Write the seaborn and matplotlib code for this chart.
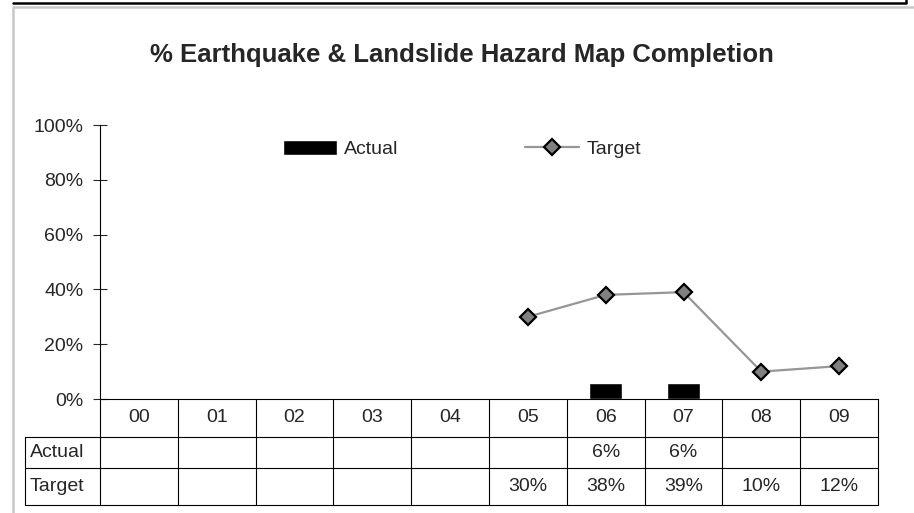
import numpy as np
import pandas as pd
import matplotlib
matplotlib.use("Agg")
import matplotlib.pyplot as plt
import seaborn as sns
from matplotlib.lines import Line2D

# %%
years = ["00", "01", "02", "03", "04", "05", "06", "07", "08", "09"]
actual = [np.nan, np.nan, np.nan, np.nan, np.nan, np.nan, 0.06, 0.06, np.nan, np.nan]
target = [np.nan, np.nan, np.nan, np.nan, np.nan, 0.30, 0.38, 0.39, 0.10, 0.12]
y_ticks = [0, 0.2, 0.4, 0.6, 0.8, 1.0]
title = "% Earthquake & Landslide Hazard Map Completion"

df = pd.DataFrame({"year": years, "actual": actual, "target": target})
df["pos"] = np.arange(len(df))

# %%
sns.set_style("white")
plt.rcParams["font.family"] = ["Liberation Sans", "DejaVu Sans"]
FS = 14

W, H = 914, 513
fig = plt.figure(figsize=(W / 100, H / 100), dpi=100)


def fx(px):
    return px / W


def fy(py):
    return 1 - py / H


ax = fig.add_axes([fx(100), fy(399), (878 - 100) / W, (399 - 125) / H])

sns.barplot(data=df, x="year", y="actual", order=years, color="black",
            width=0.43, label="Actual", ax=ax, errorbar=None, saturation=1)
sns.lineplot(data=df.dropna(subset=["target"]), x="pos", y="target",
             color="#969696", linewidth=1.6, marker="D", markersize=8.5,
             markerfacecolor="#808080", markeredgecolor="black",
             markeredgewidth=1.6, label="Target", ax=ax)

ax.set_xlim(-0.5, len(years) - 0.5)
ax.set_ylim(0, 1)
ax.set_xticks([])
ax.set_xlabel("")
ax.set_ylabel("")
ax.set_yticks(y_ticks)
ax.set_yticklabels([f"{int(round(v * 100))}%" for v in y_ticks], fontsize=FS)
ax.tick_params(axis="y", direction="inout", length=10, width=0.8, pad=7, left=True)
for side in ["top", "right"]:
    ax.spines[side].set_visible(False)
for side in ["left", "bottom"]:
    ax.spines[side].set_color("black")
    ax.spines[side].set_linewidth(0.8)

handles, labels = ax.get_legend_handles_labels()
order = [labels.index("Actual"), labels.index("Target")]
ax.legend([handles[i] for i in order], [labels[i] for i in order],
          loc="center left", bbox_to_anchor=(fx(283), fy(149)),
          bbox_transform=fig.transFigure, ncol=2, frameon=False,
          fontsize=FS, handlelength=2.8, handleheight=0.85,
          handletextpad=0.35, columnspacing=6.5, borderpad=0, borderaxespad=0)

fig.text(fx(462), fy(55), title, ha="center", va="center",
         fontsize=18.5, fontweight="bold")

# %% data table under the axis
tax = fig.add_axes([fx(25), fy(505), (878 - 25) / W, (505 - 399) / H])
x_left = -0.5 - 75 / 77.8
tax.set_xlim(x_left, len(years) - 0.5)
tax.set_ylim(106, 0)
tax.axis("off")
rows = [0, 38, 69, 106]
lw = 0.8
for k in range(len(years) + 1):
    tax.plot([k - 0.5, k - 0.5], [0, 106], color="black", lw=lw, clip_on=False)
tax.plot([x_left, x_left], [38, 106], color="black", lw=lw, clip_on=False)
for r in rows[1:]:
    tax.plot([x_left, len(years) - 0.5], [r, r], color="black", lw=lw, clip_on=False)

for i, yr in enumerate(years):
    tax.text(i, (rows[0] + rows[1]) / 2, yr, ha="center", va="center", fontsize=FS)
for label, vals, (r0, r1) in [("Actual", actual, (rows[1], rows[2])),
                              ("Target", target, (rows[2], rows[3]))]:
    tax.text(x_left + 0.06, (r0 + r1) / 2, label, ha="left", va="center", fontsize=FS)
    for i, v in enumerate(vals):
        if not np.isnan(v):
            tax.text(i, (r0 + r1) / 2, f"{int(round(v * 100))}%",
                     ha="center", va="center", fontsize=FS)

# %% outer frame
fig.add_artist(Line2D([fx(13), fx(906), fx(906)], [fy(3), fy(3), fy(0)],
                      color="black", lw=1.8, transform=fig.transFigure))
fig.add_artist(Line2D([fx(13), fx(13), fx(914)], [fy(513), fy(7), fy(7)],
                      color="#c8c8c8", lw=1.8, transform=fig.transFigure))

fig.savefig("out.png", dpi=100)
